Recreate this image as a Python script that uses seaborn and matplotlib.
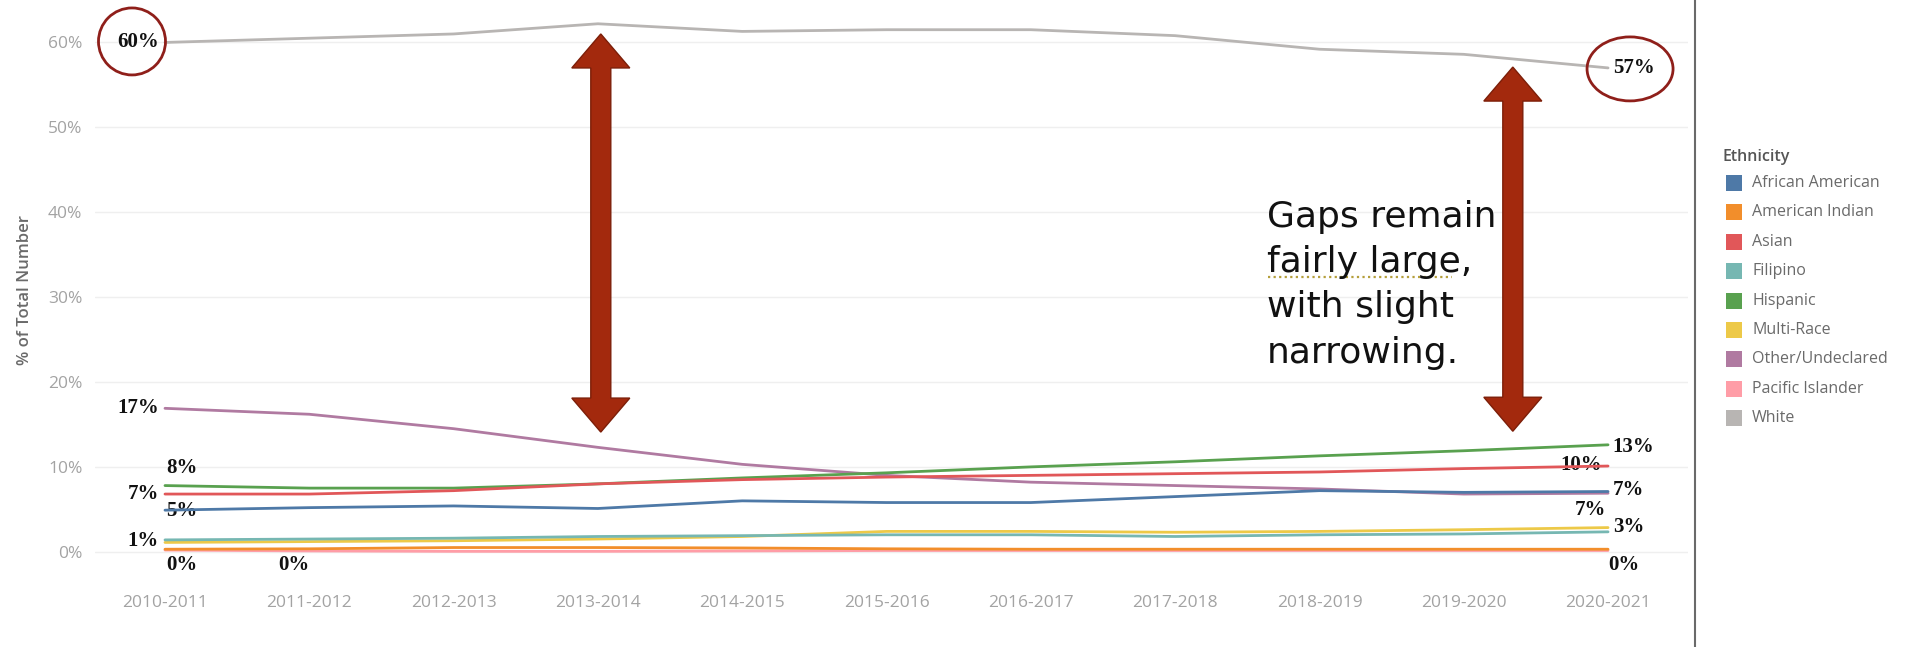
import numpy as np
import pandas as pd
import matplotlib
matplotlib.use("Agg")
import matplotlib.pyplot as plt
import seaborn as sns
from matplotlib.patches import Ellipse, Polygon, Rectangle
from matplotlib.transforms import IdentityTransform
from matplotlib.lines import Line2D

# ---- data -------------------------------------------------------------
years = ["2010-2011", "2011-2012", "2012-2013", "2013-2014", "2014-2015",
         "2015-2016", "2016-2017", "2017-2018", "2018-2019", "2019-2020",
         "2020-2021"]

ethnicities = ["African American", "American Indian", "Asian", "Filipino",
               "Hispanic", "Multi-Race", "Other/Undeclared",
               "Pacific Islander", "White"]

african_american = [4.9, 5.2, 5.4, 5.1, 6.0, 5.8, 5.8, 6.5, 7.2, 7.0, 7.1]
american_indian = [0.3, 0.35, 0.5, 0.5, 0.45, 0.35, 0.3, 0.3, 0.3, 0.3, 0.3]
asian = [6.8, 6.8, 7.2, 8.0, 8.5, 8.8, 9.0, 9.2, 9.4, 9.8, 10.1]
filipino = [1.4, 1.5, 1.6, 1.8, 1.9, 2.0, 2.0, 1.8, 2.0, 2.1, 2.35]
hispanic = [7.8, 7.5, 7.5, 8.0, 8.7, 9.3, 10.0, 10.6, 11.3, 11.9, 12.6]
multi_race = [1.1, 1.2, 1.3, 1.5, 1.8, 2.4, 2.4, 2.3, 2.4, 2.6, 2.85]
other_undeclared = [16.9, 16.2, 14.5, 12.3, 10.3, 9.0, 8.2, 7.8, 7.4, 6.8, 6.9]
pacific_islander = [0.2, 0.1, 0.05, 0.05, 0.1, 0.15, 0.15, 0.15, 0.15, 0.15, 0.15]
white = [60.0, 60.5, 61.0, 62.2, 61.3, 61.5, 61.5, 60.8, 59.2, 58.6, 57.0]

colors = ["#4E79A7", "#F28E2B", "#E15759", "#76B7B2", "#59A14F",
          "#EDC948", "#B07AA1", "#FF9DA7", "#B8B5B3"]

y_ticks = [0, 10, 20, 30, 40, 50, 60]

note_lines = ["Gaps remain", "fairly large,", "with slight", "narrowing."]

series = dict(zip(ethnicities, [african_american, american_indian, asian,
                                filipino, hispanic, multi_race,
                                other_undeclared, pacific_islander, white]))
palette = dict(zip(ethnicities, colors))

df = pd.DataFrame([
    {"Ethnicity": eth, "pos": i, "Year": yr, "pct": val}
    for eth, vals in series.items()
    for i, (yr, val) in enumerate(zip(years, vals))
])

# ---- figure -----------------------------------------------------------
sns.set_theme(style="white")
plt.rcParams["font.family"] = ["Open Sans", "DejaVu Sans"]

W, H = 1913, 647
fig = plt.figure(figsize=(W / 100, H / 100), dpi=100)


def fx(px):
    return px / W


def fy(py):
    return 1 - py / H


ax = fig.add_axes([fx(95), fy(573), fx(1688) - fx(95), fy(0) - fy(573)])

# later entries are drawn first so the legend's first series sits on top
sns.lineplot(data=df, x="pos", y="pct", hue="Ethnicity",
             hue_order=ethnicities[::-1], palette=palette, linewidth=2.0,
             estimator=None, sort=False, legend=False, ax=ax)

ax.set_xlim(-0.485, 10.554)
ax.set_ylim(-2.5, 65)
ax.set_xticks(range(len(years)))
ax.set_xticklabels(years)
ax.set_yticks(y_ticks)
ax.set_yticklabels([f"{t}%" for t in y_ticks])
ax.tick_params(axis="both", length=0, labelsize=12.5, colors="#a3a3a3")
ax.tick_params(axis="y", pad=9)
ax.tick_params(axis="x", pad=16)
ax.set_xlabel("")
ax.set_ylabel("% of Total Number", fontsize=12, color="#6a6a6a",
              fontweight="semibold")
ax.yaxis.set_label_coords(-0.039, 0.494)
for s in ax.spines.values():
    s.set_visible(False)
ax.grid(axis="y", color="#efefef", linewidth=1)
ax.set_axisbelow(True)

# ---- value labels -----------------------------------------------------
label_specs = [
    ("White", 0, "right", -6, 0),
    ("White", 10, "left", 5, 0),
    ("Other/Undeclared", 0, "right", -6, 0),
    ("Hispanic", 0, "left", 1, 18),
    ("Asian", 0, "right", -6, 0),
    ("African American", 0, "left", 1, -1),
    ("Filipino", 0, "right", -6, -1),
    ("American Indian", 0, "left", 1, -16),
    ("Pacific Islander", 1, "right", 0, -14),
    ("Hispanic", 10, "left", 4, -2),
    ("Asian", 10, "right", -6, 1),
    ("African American", 10, "left", 5, 2),
    ("Other/Undeclared", 10, "right", -2, -17),
    ("Multi-Race", 10, "left", 5, 1),
    ("American Indian", 10, "left", 0, -16),
]
for eth, i, ha, dx, dy in label_specs:
    v = series[eth][i]
    ax.annotate(f"{v:.0f}%", xy=(i, v), xytext=(dx, dy),
                textcoords="offset pixels", ha=ha, va="center",
                fontsize=15, fontweight="bold", color="#111111",
                family="Liberation Serif", zorder=1.5)

# ---- call-outs (drawn in pixel space) ----------------------------------
to_px = ax.transData.transform
ident = IdentityTransform()
callout_red = "#8f1f1a"

x0, y0 = to_px((0, white[0]))
x1, y1 = to_px((10, white[-1]))
fig.add_artist(Ellipse((x0 - 33, y0 + 1), 67, 67, transform=ident,
                       fill=False, edgecolor=callout_red, linewidth=2.0))
fig.add_artist(Ellipse((x1 + 22, y1 - 1), 86, 64, transform=ident,
                       fill=False, edgecolor=callout_red, linewidth=2.0))


def fat_arrow(xd, ylo, yhi, shaft=20, head_w=58, head_l=34):
    cx, by = to_px((xd, ylo))
    _, ty = to_px((xd, yhi))
    hs, hw = shaft / 2, head_w / 2
    pts = [(cx, ty), (cx + hw, ty - head_l), (cx + hs, ty - head_l),
           (cx + hs, by + head_l), (cx + hw, by + head_l), (cx, by),
           (cx - hw, by + head_l), (cx - hs, by + head_l),
           (cx - hs, ty - head_l), (cx - hw, ty - head_l)]
    fig.add_artist(Polygon(pts, closed=True, transform=ident,
                           facecolor="#a3290d", edgecolor="#7c1e08",
                           linewidth=1.0, zorder=5))


fat_arrow(3.02, 14.1, 61.0)
fat_arrow(9.34, 14.2, 57.1)

# ---- note text --------------------------------------------------------
baselines = [227, 272, 317, 363]
for line, b in zip(note_lines, baselines):
    fig.text(fx(1267), fy(b), line, fontsize=26, color="#111111",
             family="DejaVu Sans", va="baseline", ha="left")
fig.add_artist(Line2D([fx(1268), fx(1452)], [fy(277), fy(277)],
                      transform=fig.transFigure, color="#b59f3b",
                      linewidth=1.6, linestyle=(0, (1, 1.5))))

# ---- frame divider ----------------------------------------------------
fig.add_artist(Line2D([fx(1695), fx(1695)], [0, 1], transform=fig.transFigure,
                      color="#6a6a6a", linewidth=1.5))

# ---- legend -----------------------------------------------------------
fig.text(fx(1723), fy(157), "Ethnicity", fontsize=11.5, color="#555555",
         fontweight="semibold", va="center", ha="left")
for k, (eth, col) in enumerate(zip(ethnicities, colors)):
    yc = 183 + k * 29.4
    fig.add_artist(Rectangle((fx(1726), fy(yc + 8)), fx(16), 16 / H,
                             transform=fig.transFigure, facecolor=col,
                             edgecolor="none"))
    fig.text(fx(1752), fy(yc), eth, fontsize=11.5, color="#6a6a6a",
             va="center", ha="left")

fig.savefig("out.png", dpi=100, facecolor="white")
